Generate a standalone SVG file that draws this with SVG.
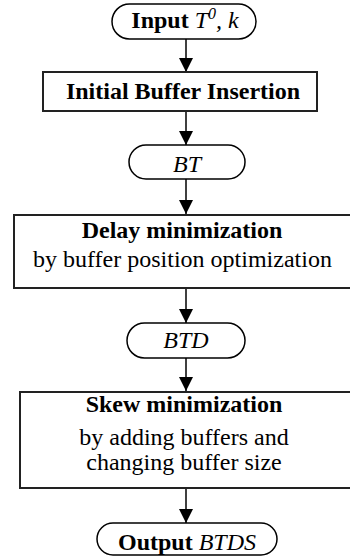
<svg xmlns="http://www.w3.org/2000/svg" width="350" height="557" viewBox="0 0 350 557">
<style>
text{font-family:"Liberation Serif","Times New Roman",serif;font-size:24px;fill:#000;text-anchor:middle}
.b{font-weight:bold}
.i{font-style:italic}
.box{fill:#fff;stroke:#222;stroke-width:2}
.pill{fill:#fff;stroke:#000;stroke-width:1.5}
.con{stroke:#000;stroke-width:1.5;fill:none;marker-end:url(#ah)}
</style>
<defs>
<marker id="ah" markerWidth="15" markerHeight="14" refX="14" refY="7" orient="auto" markerUnits="userSpaceOnUse">
<path d="M0,0 L14,7 L0,14 Z" fill="#000"/>
</marker>
</defs>
<rect width="350" height="557" fill="#fff"/>
<g id="connectors">
<line class="con" x1="186" y1="39" x2="186" y2="72"/>
<line class="con" x1="186" y1="111" x2="186" y2="145"/>
<line class="con" x1="186" y1="179" x2="186" y2="214"/>
<line class="con" x1="186" y1="288" x2="186" y2="323"/>
<line class="con" x1="186" y1="358" x2="186" y2="391"/>
<line class="con" x1="186" y1="488" x2="186" y2="523"/>
</g>
<g id="input">
<rect class="pill" x="112" y="4" width="144" height="35" rx="17.5"/>
<text x="185" y="28"><tspan class="b">Input</tspan> <tspan class="i">T</tspan><tspan class="i" font-size="16" dy="-9">0</tspan><tspan class="i" dy="9">, k</tspan></text>
</g>
<g id="initial">
<rect class="box" x="43" y="72" width="274" height="39"/>
<text class="b" x="183" y="99">Initial Buffer Insertion</text>
</g>
<g id="bt">
<rect class="pill" x="129" y="145" width="116" height="34" rx="17"/>
<text class="i" x="187" y="172">BT</text>
</g>
<g id="delay">
<rect class="box" x="14" y="215" width="340" height="73"/>
<text class="b" x="182" y="238">Delay minimization</text>
<text x="182.5" y="267">by buffer position optimization</text>
</g>
<g id="btd">
<rect class="pill" x="127" y="323" width="118" height="35" rx="17.5"/>
<text class="i" x="186" y="348">BTD</text>
</g>
<g id="skew">
<rect class="box" x="20" y="392" width="334" height="96"/>
<text class="b" x="184" y="412">Skew minimization</text>
<text x="184" y="445">by adding buffers and</text>
<text x="184" y="470">changing buffer size</text>
</g>
<g id="output">
<rect class="pill" x="97" y="523" width="180" height="32" rx="16"/>
<text x="187" y="550"><tspan class="b">Output</tspan> <tspan class="i">BTDS</tspan></text>
</g>
</svg>
